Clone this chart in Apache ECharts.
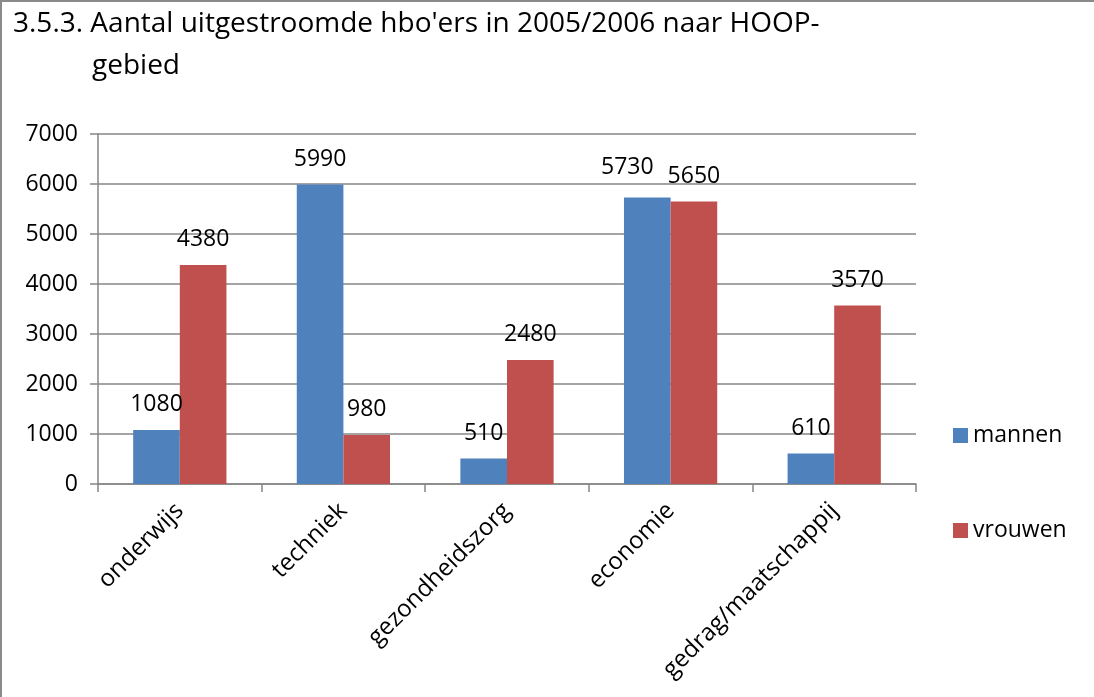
<!DOCTYPE html>
<html>
<head>
<meta charset="utf-8">
<script src="https://cdn.jsdelivr.net/npm/echarts@6/dist/echarts.min.js"></script>
<style>
  html, body { margin: 0; padding: 0; background: #fff; }
  #chart {
    width: 1094px; height: 697px;
    box-sizing: border-box;
    border-top: 2px solid #8a8a8a;
    border-left: 2px solid #8a8a8a;
  }
</style>
</head>
<body>
<div id="chart"></div>
<script>
// gegevens uit de grafiek
const categories = ['onderwijs', 'techniek', 'gezondheidszorg', 'economie', 'gedrag/maatschappij'];
const mannen = [1080, 5990, 510, 5730, 610];
const vrouwen = [4380, 980, 2480, 5650, 3570];
const seriesNames = ['mannen', 'vrouwen'];

const font = '"Open Sans", sans-serif';
const gray = '#868686';

let myChart = echarts.init(document.getElementById('chart'));

const labelStyle = {
  show: true,
  position: 'top',
  distance: 14,
  color: '#000',
  fontFamily: font,
  fontSize: 23
};

// label van economie/mannen staat in het origineel iets naar links geschoven
const mannenData = mannen.map((v, i) =>
  i === 3 ? { value: v, label: { offset: [-20, -5] } } : v
);

let option = {
  animation: false,
  textStyle: { fontFamily: font },
  title: [
    {
      text: "3.5.3. Aantal uitgestroomde hbo'ers in 2005/2006 naar HOOP-",
      left: 6, top: 3,
      textStyle: { fontFamily: font, fontSize: 28, fontWeight: 'normal', color: '#000' }
    },
    {
      text: 'gebied',
      left: 85, top: 45,
      textStyle: { fontFamily: font, fontSize: 28, fontWeight: 'normal', color: '#000' }
    }
  ],
  legend: {
    orient: 'vertical',
    left: 946, top: 417,
    itemGap: 72,
    itemWidth: 15, itemHeight: 15,
    icon: 'rect',
    textStyle: { fontFamily: font, fontSize: 23, color: '#000' },
    data: seriesNames
  },
  grid: { left: 96, right: 178, top: 132, bottom: 213, containLabel: false },
  xAxis: {
    type: 'category',
    data: categories,
    axisLine: { lineStyle: { color: gray, width: 1.5 } },
    axisTick: { show: true, length: 8, lineStyle: { color: gray, width: 1.5 } },
    axisLabel: { rotate: 45, margin: 23, color: '#000', fontFamily: font, fontSize: 24 }
  },
  yAxis: {
    type: 'value',
    min: 0, max: 7000, interval: 1000,
    axisLine: { show: true, lineStyle: { color: gray, width: 1.5 } },
    axisTick: { show: true, length: 8, lineStyle: { color: gray, width: 1.5 } },
    splitLine: { lineStyle: { color: gray, width: 1.5 } },
    axisLabel: {
      margin: 20, color: '#000', fontFamily: font, fontSize: 23,
      formatter: v => String(v)
    }
  },
  series: [
    {
      name: seriesNames[0], type: 'bar', data: mannenData,
      barGap: '0%', barCategoryGap: '43%',
      itemStyle: { color: '#4f81bd' },
      label: labelStyle
    },
    {
      name: seriesNames[1], type: 'bar', data: vrouwen,
      barGap: '0%', barCategoryGap: '43%',
      itemStyle: { color: '#c0504d' },
      label: labelStyle
    }
  ]
};

myChart.setOption(option);
</script>
</body>
</html>
